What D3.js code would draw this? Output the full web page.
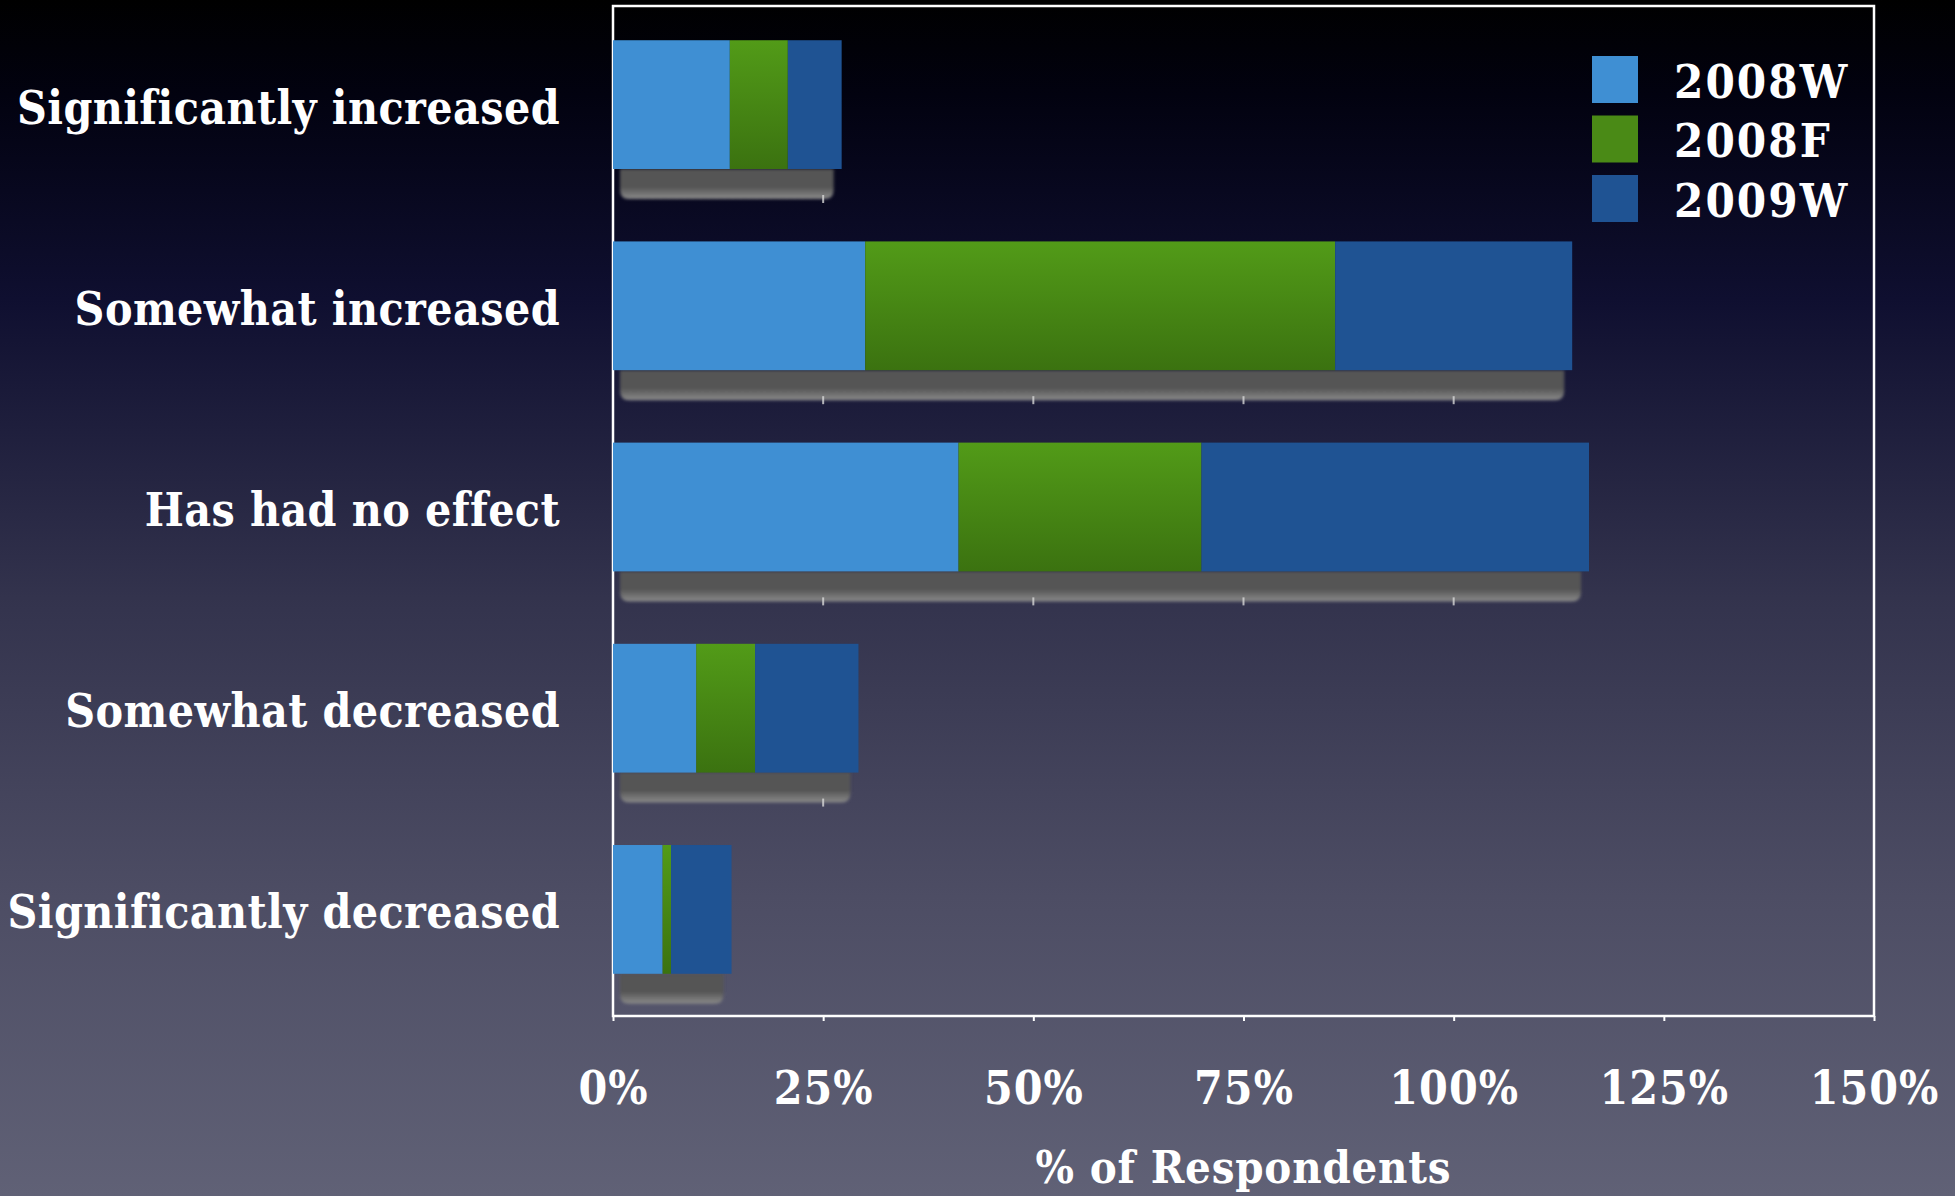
<!DOCTYPE html>
<html>
<head>
<meta charset="utf-8">
<script src="https://cdn.jsdelivr.net/npm/d3@7"></script>
<style>
  html, body { margin: 0; padding: 0; background: #000; }
  svg { display: block; }
</style>
</head>
<body>
<svg id="chart" width="1955" height="1196"></svg>
<script>
// ---- data ----
const categories = ["Significantly increased", "Somewhat increased", "Has had no effect", "Somewhat decreased", "Significantly decreased"];
const seriesNames = ["2008W", "2008F", "2009W"];
const values2008W = [13.9, 30.0, 41.1, 9.9, 5.9];
const values2008F = [6.9, 55.9, 28.9, 7.0, 1.0];
const values2009W = [6.4, 28.2, 46.1, 12.3, 7.2];
const tickValues = [0, 25, 50, 75, 100, 125, 150];
const tickLabels = ["0%", "25%", "50%", "75%", "100%", "125%", "150%"];
const axisTitle = "% of Respondents";

// ---- layout ----
const W = 1955, H = 1196;
const plot = { left: 613, right: 1874, top: 6, bottom: 1016 };
const svg = d3.select("#chart");
const defs = svg.append("defs");
const FONT = "'DejaVu Serif', serif";

// background gradient
const bg = defs.append("linearGradient").attr("id", "bg").attr("x1", 0).attr("y1", 0).attr("x2", 0).attr("y2", 1);
[[0, "#000000"], [0.08, "#020210"], [0.25, "#0f0f30"], [0.5, "#33334d"], [0.75, "#4d4d64"], [1, "#606176"]]
  .forEach(([o, c]) => bg.append("stop").attr("offset", o).attr("stop-color", c));
svg.append("rect").attr("width", W).attr("height", H).attr("fill", "url(#bg)");

// green gradient
const gg = defs.append("linearGradient").attr("id", "green").attr("x1", 0).attr("y1", 0).attr("x2", 0).attr("y2", 1);
gg.append("stop").attr("offset", 0).attr("stop-color", "#529b18");
gg.append("stop").attr("offset", 1).attr("stop-color", "#3b7210");

// shadow gradient
const sg = defs.append("linearGradient").attr("id", "shadow").attr("x1", 0).attr("y1", 0).attr("x2", 0).attr("y2", 1);
sg.append("stop").attr("offset", 0).attr("stop-color", "#545454");
sg.append("stop").attr("offset", 0.6).attr("stop-color", "#555555");
sg.append("stop").attr("offset", 1).attr("stop-color", "#8a8a8a");
const blur = defs.append("filter").attr("id", "soft").attr("x", "-5%").attr("y", "-20%").attr("width", "110%").attr("height", "140%");
blur.append("feGaussianBlur").attr("stdDeviation", 1.6);

const colors = { "2008W": "#3f8fd3", "2008F": "url(#green)", "2009W": "#1f5393" };
const legendColors = { "2008W": "#3f8fd3", "2008F": "#4a8a16", "2009W": "#1f5393" };

const x = d3.scaleLinear().domain([0, 150]).range([plot.left, plot.right]);
const y = d3.scaleBand().domain(categories).range([plot.top - 4, plot.bottom - 4])
  .paddingInner(0.36).paddingOuter(0.19);

// stacked data
const rows = categories.map((c, i) => ({ cat: c, "2008W": values2008W[i], "2008F": values2008F[i], "2009W": values2009W[i] }));
const stack = d3.stack().keys(seriesNames)(rows);

// shadows under bars
const shadowH = 30;
svg.append("g").selectAll("path").data(rows).join("path")
  .attr("filter", "url(#soft)")
  .attr("fill", "url(#shadow)")
  .attr("d", d => {
    const total = seriesNames.reduce((s, k) => s + d[k], 0);
    const x0 = x(0) + 7, x1 = x(total) - 8;
    const y0 = y(d.cat) + y.bandwidth(), y1 = y0 + shadowH, r = 9;
    return `M${x0},${y0} L${x1},${y0} L${x1},${y1 - r} Q${x1},${y1} ${x1 - r},${y1} L${x0 + r},${y1} Q${x0},${y1} ${x0},${y1 - r} Z`;
  });

// little tick notches under shadows
const notchG = svg.append("g");
rows.forEach(d => {
  const total = seriesNames.reduce((s, k) => s + d[k], 0);
  const y1 = y(d.cat) + y.bandwidth() + shadowH;
  tickValues.filter(t => t > 0 && t < 150 && x(t) < x(total) - 12).forEach(t => {
    notchG.append("line").attr("x1", x(t)).attr("x2", x(t))
      .attr("y1", y1 - 4).attr("y2", y1 + 4)
      .attr("stroke", "#d8d8d8").attr("stroke-width", 2).attr("opacity", 0.8);
  });
});

// frame
svg.append("rect")
  .attr("x", plot.left).attr("y", plot.top)
  .attr("width", plot.right - plot.left).attr("height", plot.bottom - plot.top)
  .attr("fill", "none").attr("stroke", "#ffffff").attr("stroke-width", 2.5);

// bottom axis with ticks
const xAxis = d3.axisBottom(x).tickValues(tickValues).tickFormat((d, i) => tickLabels[i]).tickSize(5).tickPadding(50);
const axG = svg.append("g").attr("transform", `translate(0,${plot.bottom})`).call(xAxis);
axG.select(".domain").remove();
axG.selectAll(".tick line").attr("stroke", "#ffffff").attr("stroke-width", 2);
axG.selectAll(".tick text")
  .attr("fill", "#ffffff")
  .attr("font-family", FONT)
  .attr("font-weight", "bold")
  .attr("font-size", 46)
  .style("font-stretch", "condensed")
  .attr("letter-spacing", 1);

// bars
svg.append("g").selectAll("g").data(stack).join("g")
  .attr("fill", d => colors[d.key])
  .selectAll("rect").data(d => d).join("rect")
  .attr("x", d => x(d[0]))
  .attr("y", d => y(d.data.cat))
  .attr("width", d => x(d[1]) - x(d[0]))
  .attr("height", y.bandwidth());

// category labels
svg.append("g").selectAll("text").data(categories).join("text")
  .attr("x", 560)
  .attr("y", d => y(d) + y.bandwidth() / 2 + 3)
  .attr("text-anchor", "end")
  .attr("dominant-baseline", "central")
  .attr("fill", "#ffffff")
  .attr("font-family", FONT)
  .attr("font-weight", "bold")
  .attr("font-size", 46)
  .style("font-stretch", "condensed")
  .attr("letter-spacing", 0.4)
  .text(d => d);

// axis title
svg.append("text")
  .attr("x", (plot.left + plot.right) / 2)
  .attr("y", 1167)
  .attr("text-anchor", "middle")
  .attr("dominant-baseline", "central")
  .attr("fill", "#ffffff")
  .attr("font-family", FONT)
  .attr("font-weight", "bold")
  .attr("font-size", 45)
  .style("font-stretch", "condensed")
  .attr("letter-spacing", 0.8)
  .text(axisTitle);

// legend
const lg = svg.append("g").attr("transform", "translate(1592,56)");
const li = lg.selectAll("g").data(seriesNames).join("g")
  .attr("transform", (d, i) => `translate(0,${i * 59.5})`);
li.append("rect").attr("width", 46).attr("height", 47).attr("fill", d => legendColors[d]);
li.append("text")
  .attr("x", 82).attr("y", 25)
  .attr("dominant-baseline", "central")
  .attr("fill", "#ffffff")
  .attr("font-family", FONT)
  .attr("font-weight", "bold")
  .attr("font-size", 47)
  .style("font-stretch", "condensed")
  .attr("letter-spacing", 2)
  .text(d => d);
</script>
</body>
</html>
